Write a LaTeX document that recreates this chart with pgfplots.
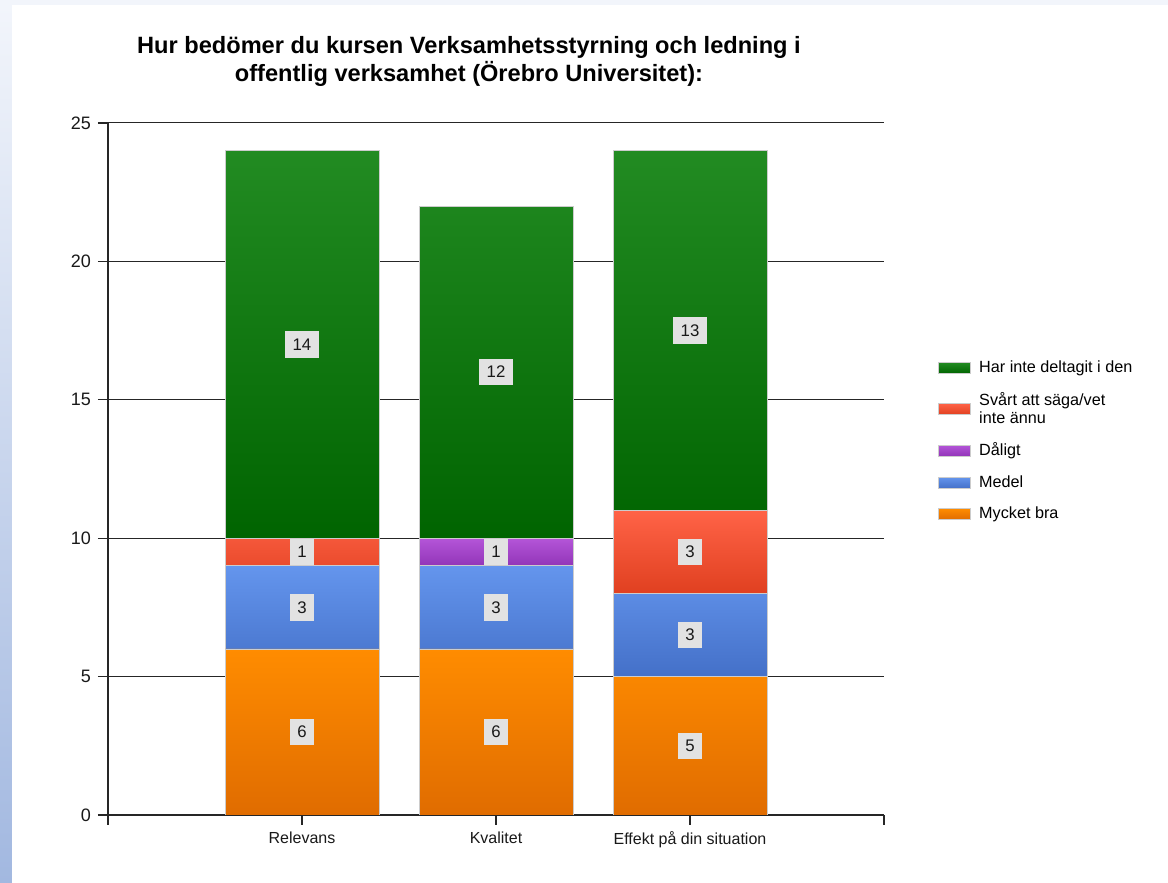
\documentclass[border=0pt]{standalone}
\usepackage{pgfplots}
\pgfplotsset{compat=1.18}
\usepackage{fontspec}
\setmainfont{Liberation Sans}
\definecolor{orT}{HTML}{FF8C00}
\definecolor{orB}{HTML}{E06C00}
\definecolor{blT}{HTML}{6495ED}
\definecolor{blB}{HTML}{4470C8}
\definecolor{puT}{HTML}{B455D8}
\definecolor{puB}{HTML}{9235B8}
\definecolor{rdT}{HTML}{FF6347}
\definecolor{rdB}{HTML}{E04020}
\definecolor{grT}{HTML}{228B22}
\definecolor{grB}{HTML}{006400}
\definecolor{lblgray}{HTML}{E2E2E2}
\definecolor{bgblue}{HTML}{A2B8E0}
\definecolor{bglight}{HTML}{F2F5FB}
\pgfplotsset{
  /pgf/number format/assume math mode=true,
  seglabel/.style={
    visualization depends on={rawy \as \rawy},
    nodes near coords={\ifdim\rawy pt>0.5pt\relax{\setlength{\fboxsep}{3.6pt}\colorbox{lblgray}{\vphantom{0}\pgfmathprintnumber{\rawy}}}\fi},
    every node near coord/.style={anchor=center, inner sep=0pt, font=\fontsize{8.4}{10}\selectfont, text=black!90},
  },
}
\begin{document}
\begin{tikzpicture}
\path[use as bounding box, fill=white] (-54pt,-34pt) rectangle (530pt,407.5pt);
\fill[bglight] (-54pt,405pt) rectangle (530pt,407.5pt);
\shade[top color=bglight, bottom color=bgblue] (-54pt,-34pt) rectangle (-48pt,405pt);
\begin{axis}[
  at={(0pt,0pt)}, anchor=south west,
  x=97pt, y=13.84pt,
  xmin=-1, xmax=3, ymin=0, ymax=25,
  ybar stacked, bar width=77pt,
  axis x line*=bottom, axis y line*=left,
  axis line style={black!85, line width=0.6pt},
  tick align=outside, major tick length=5pt,
  tick style={black!85, line width=0.6pt},
  xtick={-1,0,1,2,3},
  xticklabels={,Relevans,Kvalitet,Effekt på din situation,},
  ytick={0,5,10,15,20,25},
  ymajorgrids, grid style={black!85, line width=0.5pt},
  tick label style={font=\fontsize{8}{9.6}\selectfont, text=black!90},
  yticklabel style={font=\fontsize{9}{10.8}\selectfont},
  legend style={draw=none, fill=none, at={(1.0696,0.66)}, anchor=north west,
    inner sep=0pt, row sep=6.3pt, font=\fontsize{8.1}{9}\selectfont,
    nodes={align=left, inner sep=1pt},
    /tikz/every odd column/.append style={column sep=3pt}},
  legend cell align=left,
  reverse legend,
  legend image code/.code={\fill[#1] (0pt,-2.8pt) rectangle (16pt,2.8pt);},
  every axis plot/.append style={draw=white!80!black, line width=0.4pt},
]
\addplot[top color=orT, bottom color=orB, seglabel] coordinates {(0,6) (1,6) (2,5)};
\addlegendentry{Mycket bra}
\addplot[top color=blT, bottom color=blB, seglabel] coordinates {(0,3) (1,3) (2,3)};
\addlegendentry{Medel}
\addplot[top color=puT, bottom color=puB, seglabel] coordinates {(0,0) (1,1) (2,0)};
\addlegendentry{Dåligt}
\addplot[top color=rdT, bottom color=rdB, seglabel] coordinates {(0,1) (1,0) (2,3)};
\addlegendentry{Svårt att säga/vet\\inte ännu}
\addplot[top color=grT, bottom color=grB, seglabel] coordinates {(0,14) (1,12) (2,13)};
\addlegendentry{Har inte deltagit i den}
\end{axis}
\node[align=center, font=\bfseries\fontsize{11.8}{14}\selectfont] at (180.5pt,377pt)
  {Hur bedömer du kursen Verksamhetsstyrning och ledning i\\offentlig verksamhet (Örebro Universitet):};
\end{tikzpicture}
\end{document}
